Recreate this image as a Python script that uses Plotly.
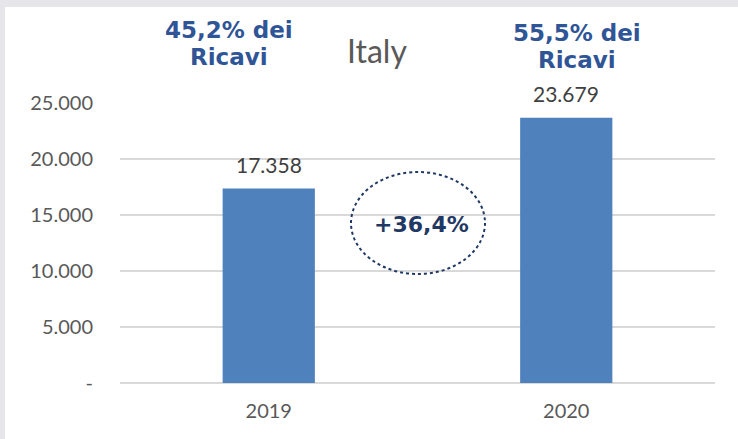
import plotly.graph_objects as go

years = ["2019", "2020"]
revenues = [17358, 23679]
tick_vals = [0, 5000, 10000, 15000, 20000, 25000]
tick_text = ["-", "5.000", "10.000", "15.000", "20.000", "25.000"]
share_labels = [["45,2% dei", "Ricavi"], ["55,5% dei", "Ricavi"]]
growth_label = "+36,4%"
title_text = "Italy"

W, H = 738, 439
L, R, T, B = 120, 23, 103, 56
pw, ph = W - L - R, H - T - B

def px(x):
    return (x - L) / pw

def py(y):
    return (H - B - y) / ph

FONT = "Lato, Liberation Sans"

fig = go.Figure()
fig.add_trace(go.Bar(
    x=years, y=revenues,
    marker=dict(color="#4F81BD", line=dict(width=0)),
    hoverinfo="x+y",
))

shapes = [
    dict(type="rect", xref="paper", yref="paper", x0=px(5), x1=px(W + 5), y0=py(H + 5), y1=py(7),
         fillcolor="white", line=dict(width=0), layer="below"),
    dict(type="circle", xref="paper", yref="paper", x0=px(351), x1=px(485), y0=py(274), y1=py(172),
         line=dict(color="#1F3864", width=2, dash="dot"), fillcolor="rgba(0,0,0,0)"),
]

annotations = []
for i, v in enumerate(revenues):
    annotations.append(dict(text=f"{v:,}".replace(",", "."), x=i, y=v, xref="x", yref="y",
                            xanchor="center", yanchor="bottom", yshift=10, showarrow=False,
                            font=dict(family=FONT, size=21, color="#404040")))
annotations.append(dict(text=title_text, xref="paper", yref="paper", x=px(377), y=py(50),
                        xanchor="center", yanchor="middle", showarrow=False,
                        font=dict(family=FONT, size=32, color="#595959")))
share_pos = [(229, [30, 57]), (577, [33, 60])]
for lines, (cx, ys) in zip(share_labels, share_pos):
    for line, yy in zip(lines, ys):
        annotations.append(dict(text="<b>" + line + "</b>", xref="paper", yref="paper", x=px(cx), y=py(yy),
                                showarrow=False, xanchor="center", yanchor="middle",
                                font=dict(family="DejaVu Sans", size=23, color="#2F5597")))
annotations.append(dict(text="<b>" + growth_label + "</b>", xref="paper", yref="paper", x=px(421), y=py(224),
                        xanchor="center", yanchor="middle",
                        showarrow=False, font=dict(family="DejaVu Sans", size=22, color="#1F3864")))

fig.update_layout(
    width=W, height=H,
    margin=dict(l=L, r=R, t=T, b=B, pad=0),
    paper_bgcolor="#E6E6EA",
    plot_bgcolor="white",
    bargap=0.69,
    showlegend=False,
    shapes=shapes,
    annotations=annotations,
    xaxis=dict(type="category", range=[-0.5, 1.5], showgrid=False, showline=False, ticks="", zeroline=False,
               tickfont=dict(family=FONT, size=20, color="#595959"),
               ticklabelstandoff=14),
    yaxis=dict(range=[0, 25000], tickvals=tick_vals, ticktext=tick_text,
               showgrid=True, gridcolor="#D9D9D9", gridwidth=2,
               zeroline=True, zerolinecolor="#D9D9D9", zerolinewidth=2,
               showline=False, ticks="",
               tickfont=dict(family=FONT, size=20, color="#595959"),
               ticklabelstandoff=26),
)

fig.write_html("out.html", config={"displayModeBar": False},
               post_script="document.body.style.margin='0';")
